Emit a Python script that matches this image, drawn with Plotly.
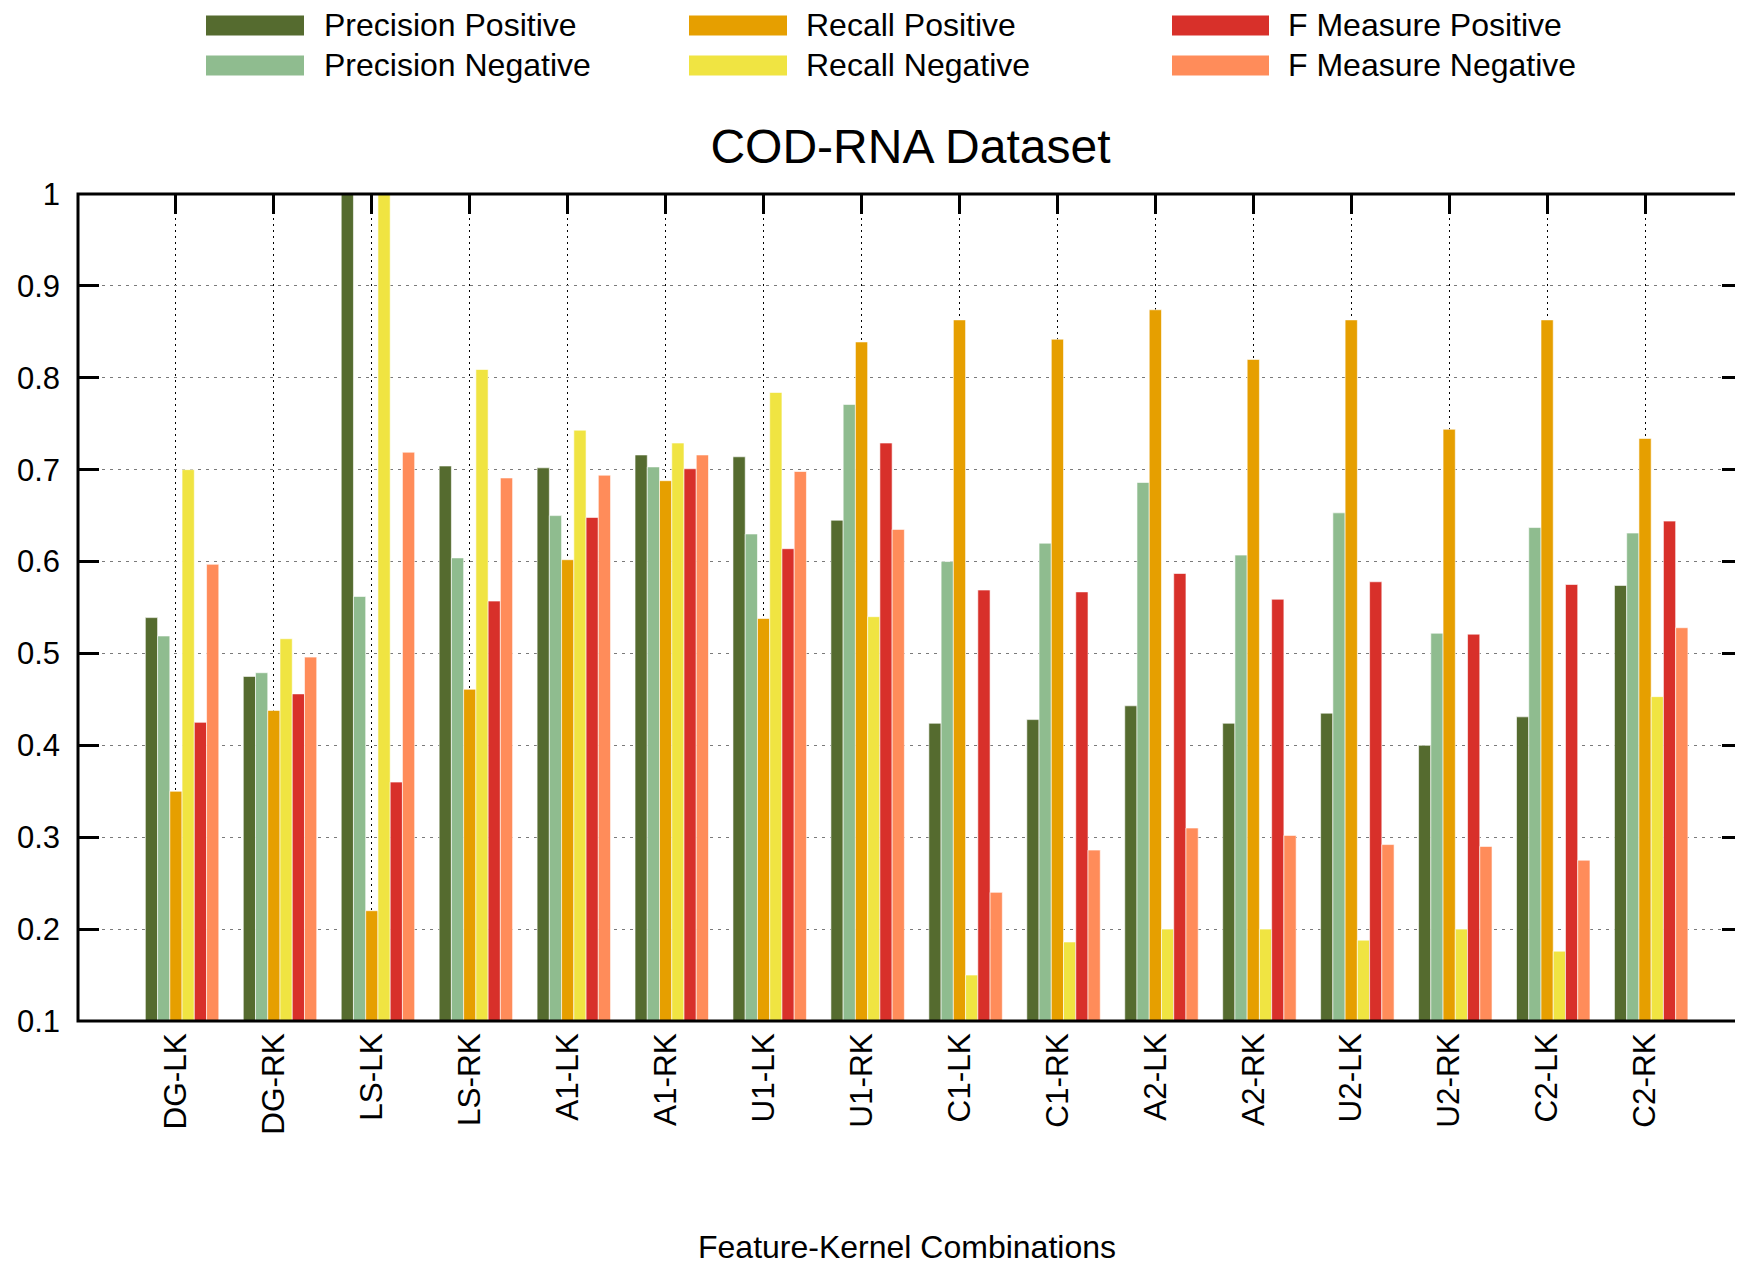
import plotly.graph_objects as go

categories = ["DG-LK", "DG-RK", "LS-LK", "LS-RK", "A1-LK", "A1-RK", "U1-LK", "U1-RK",
              "C1-LK", "C1-RK", "A2-LK", "A2-RK", "U2-LK", "U2-RK", "C2-LK", "C2-RK"]

precision_pos = [0.539, 0.475, 1.000, 0.704, 0.702, 0.716, 0.714, 0.645,
                 0.424, 0.428, 0.443, 0.424, 0.435, 0.400, 0.431, 0.574]
precision_neg = [0.519, 0.479, 0.562, 0.604, 0.650, 0.703, 0.630, 0.771,
                 0.600, 0.620, 0.686, 0.607, 0.653, 0.522, 0.637, 0.631]
recall_pos = [0.350, 0.438, 0.220, 0.461, 0.602, 0.688, 0.538, 0.839,
              0.863, 0.842, 0.874, 0.820, 0.863, 0.744, 0.863, 0.734]
recall_neg = [0.700, 0.516, 1.000, 0.809, 0.743, 0.729, 0.784, 0.540,
              0.150, 0.186, 0.200, 0.200, 0.188, 0.200, 0.176, 0.453]
fmeasure_pos = [0.425, 0.456, 0.360, 0.557, 0.648, 0.701, 0.614, 0.729,
                0.569, 0.567, 0.587, 0.559, 0.578, 0.521, 0.575, 0.644]
fmeasure_neg = [0.597, 0.496, 0.719, 0.691, 0.694, 0.716, 0.698, 0.635,
                0.240, 0.286, 0.310, 0.302, 0.292, 0.290, 0.275, 0.528]

series_names = ["Precision Positive", "Precision Negative", "Recall Positive",
                "Recall Negative", "F Measure Positive", "F Measure Negative"]
series_values = [precision_pos, precision_neg, recall_pos, recall_neg, fmeasure_pos, fmeasure_neg]
colors = ["#556b2f", "#8fbc8f", "#e69f00", "#f0e442", "#d8302a", "#ff8c5a"]

y_ticks = [0.1, 0.2, 0.3, 0.4, 0.5, 0.6, 0.7, 0.8, 0.9, 1.0]
y_tick_text = ["0.1", "0.2", "0.3", "0.4", "0.5", "0.6", "0.7", "0.8", "0.9", "1"]

# page has an 8px body margin; figure is sized/offset to compensate
OFF = 8
W, H = 1735, 1257
ML, MR, MT, MB = 70, 0, 186, 244
PW = W - ML - MR
PH = H - MT - MB

def px_x(px):  # page px -> paper
    return (px - OFF - ML) / PW

def px_y(py):  # page px -> paper
    return (H - MB - (py - OFF)) / PH

FONT = "Liberation Sans, Arial, Helvetica, sans-serif"

fig = go.Figure()
idx = list(range(len(categories)))
bw = 0.125
for k, (name, vals, col) in enumerate(zip(series_names, series_values, colors)):
    fig.add_trace(go.Bar(
        x=idx, y=vals, name=name, width=bw, offset=-0.3125 + k * bw,
        marker=dict(color=col, line=dict(color="rgba(255,255,255,0.6)", width=1)),
        showlegend=False,
    ))

fig.update_layout(
    width=W, height=H,
    margin=dict(l=ML, r=MR, t=MT, b=MB, pad=0),
    paper_bgcolor="white", plot_bgcolor="white",
    barmode="overlay",
    font=dict(family=FONT, size=31, color="black"),
    title=dict(text="COD-RNA Dataset", x=0.5, xref="paper", xanchor="center",
               y=1 - (146 - OFF) / H, yref="container", yanchor="middle",
               font=dict(size=48, family=FONT, color="black")),
)

fig.update_xaxes(
    range=[-1, 16], tickmode="array", tickvals=idx, ticktext=categories,
    tickangle=-90, ticks="inside", ticklen=20, tickwidth=2.5, tickcolor="black",
    mirror="ticks", showline=False, layer="below traces",
    showgrid=True, gridcolor="black", gridwidth=1.2, griddash="2px,4px",
    zeroline=False, ticklabelstandoff=5,
    tickfont=dict(size=31.5, family=FONT, color="black"),
)
fig.update_yaxes(
    range=[0.1, 1.0], tickmode="array", tickvals=y_ticks, ticktext=y_tick_text,
    ticks="inside", ticklen=21, tickwidth=2.5, tickcolor="black",
    mirror="ticks", showline=False, layer="below traces",
    showgrid=True, gridcolor="#7a7a7a", gridwidth=1.2, griddash="3px,5px",
    zeroline=False, ticklabelstandoff=17,
    tickfont=dict(size=31, family=FONT, color="black"),
)

# frame drawn on top
fig.add_shape(type="rect", xref="paper", yref="paper", x0=0, x1=1, y0=0, y1=1,
              line=dict(color="black", width=3), layer="above")

# x-axis title
fig.add_annotation(text="Feature-Kernel Combinations", xref="paper", yref="paper",
                   x=px_x(907), y=px_y(1247), xanchor="center", yanchor="middle",
                   showarrow=False, font=dict(size=32, family=FONT, color="black"))

# custom legend with wide swatches
legend_layout = [
    (0, 206, 304, 322, 25.5),
    (2, 689, 787, 804, 25.5),
    (4, 1172, 1269, 1286, 25.5),
    (1, 206, 304, 322, 65.5),
    (3, 689, 787, 804, 65.5),
    (5, 1172, 1269, 1286, 65.5),
]
for k, sx0, sx1, tx, cy in legend_layout:
    fig.add_shape(type="rect", xref="paper", yref="paper",
                  x0=px_x(sx0), x1=px_x(sx1), y0=px_y(cy + 10), y1=px_y(cy - 10),
                  fillcolor=colors[k], line=dict(width=0))
    fig.add_annotation(text=series_names[k], xref="paper", yref="paper",
                       x=px_x(tx), y=px_y(cy), xanchor="left", yanchor="middle",
                       showarrow=False, font=dict(size=32, family=FONT, color="black"))

fig.write_html("out.html")
